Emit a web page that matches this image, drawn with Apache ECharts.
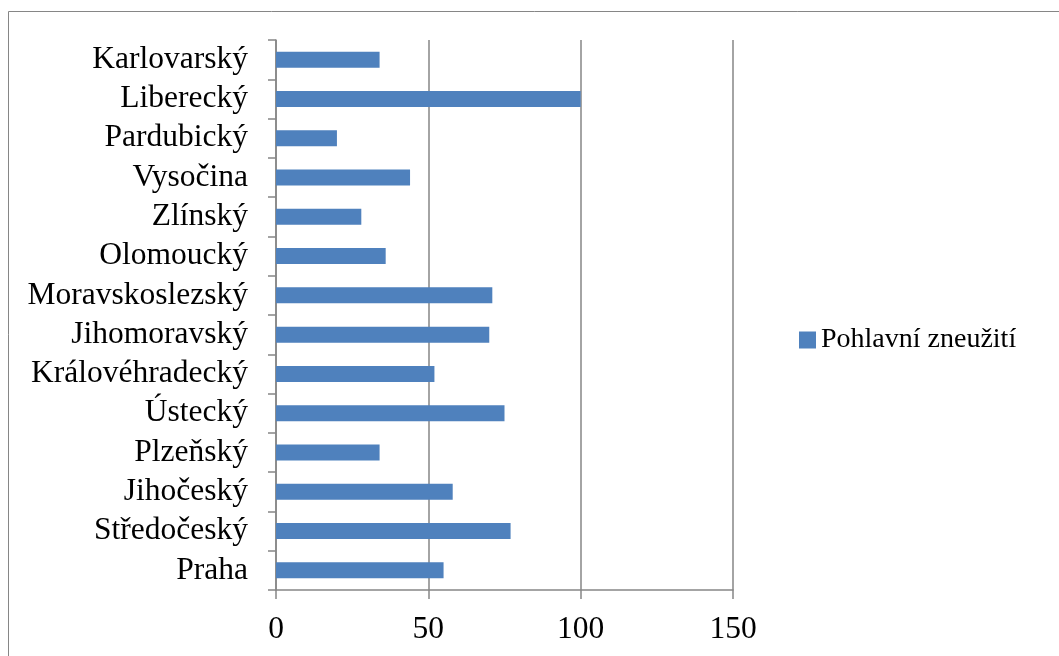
<!DOCTYPE html>
<html>
<head>
<meta charset="utf-8">
<script src="https://cdn.jsdelivr.net/npm/echarts@6/dist/echarts.min.js"></script>
<style>
  html, body { margin: 0; padding: 0; background: #fff; }
  #main { width: 1059px; height: 656px; }
</style>
</head>
<body>
<div id="main"></div>
<script>
// kraje, zdola nahoru jako v grafu
var categories = ['Praha', 'Středočeský', 'Jihočeský', 'Plzeňský', 'Ústecký', 'Královéhradecký',
  'Jihomoravský', 'Moravskoslezský', 'Olomoucký', 'Zlínský', 'Vysočina', 'Pardubický',
  'Liberecký', 'Karlovarský'];
var values = [55, 77, 58, 34, 75, 52, 70, 71, 36, 28, 44, 20, 100, 34];
var seriesName = 'Pohlavní zneužití';
var xTicks = [0, 150, 50]; // min, max, interval

var font = 'Liberation Serif, Times New Roman, serif';
var gray = '#868686';

var myChart = echarts.init(document.getElementById('main'));
myChart.setOption({
  animation: false,
  textStyle: { fontFamily: font },
  graphic: [{
    type: 'rect',
    shape: { x: 8.5, y: 11.5, width: 1200, height: 800 },
    style: { fill: 'none', stroke: gray, lineWidth: 1 },
    z: -1
  }],
  grid: { left: 276, right: 326, top: 40, bottom: 66, containLabel: false },
  legend: {
    data: [seriesName],
    left: 799,
    top: 326,
    padding: 0,
    icon: 'rect',
    itemWidth: 17,
    itemHeight: 17,
    itemGap: 0,
    textStyle: { fontFamily: font, fontSize: 28, color: '#000' }
  },
  xAxis: {
    type: 'value',
    min: xTicks[0],
    max: xTicks[1],
    interval: xTicks[2],
    axisLine: { show: true, lineStyle: { color: gray, width: 1.5 } },
    axisTick: { show: true, length: 9, lineStyle: { color: gray, width: 1.5 } },
    splitLine: { show: true, lineStyle: { color: gray, width: 1.5 } },
    axisLabel: { fontFamily: font, fontSize: 31.5, color: '#000', margin: 24 }
  },
  yAxis: {
    type: 'category',
    data: categories,
    axisLine: { show: true, lineStyle: { color: gray, width: 1.5 } },
    axisTick: { show: true, interval: 0, length: 8, lineStyle: { color: gray, width: 1.5 } },
    axisLabel: { interval: 0, fontFamily: font, fontSize: 31.5, color: '#000', margin: 28 }
  },
  series: [{
    name: seriesName,
    type: 'bar',
    data: values,
    barWidth: 16,
    itemStyle: { color: '#4F81BD' }
  }]
});
</script>
</body>
</html>
